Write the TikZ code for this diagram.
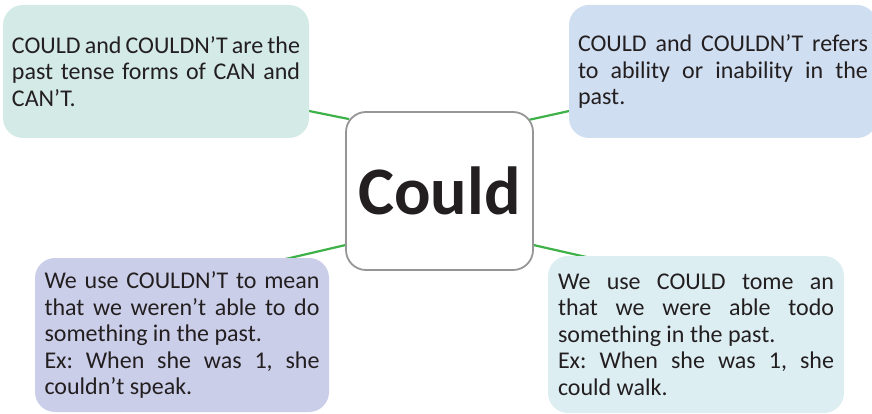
\documentclass[tikz,border=0pt]{standalone}
\usepackage{fontspec}
\setmainfont{Carlito}
\usetikzlibrary{backgrounds}

\definecolor{txt}{RGB}{35,31,32}
\definecolor{linkgreen}{RGB}{62,178,72}
\definecolor{tealbox}{RGB}{212,234,230}
\definecolor{bluebox}{RGB}{208,222,241}
\definecolor{lilacbox}{RGB}{203,206,233}
\definecolor{skybox}{RGB}{221,238,243}
\definecolor{rimgray}{RGB}{150,150,150}

\tikzset{
    notebox/.style={rectangle, rounded corners=20pt, inner xsep=9pt, inner ysep=0pt,
        align=justify, text=txt, font=\fontsize{24}{26.5}\selectfont,
        execute at begin node={\parindent=0pt\tolerance=10000\frenchspacing}},
    hubbox/.style={rectangle, rounded corners=20pt, draw=rimgray, line width=1.8pt, fill=white,
        minimum width=187pt, minimum height=158pt, text=txt,
        font=\fontsize{68}{76}\selectfont\bfseries},
    link/.style={linkgreen, line width=2.2pt}
}

\begin{document}
\begin{tikzpicture}[x=1pt, y=-1pt]
    \useasboundingbox (0,0) rectangle (872,414);

    % centre and the four notes round it
    \node[hubbox, text depth=-3pt] (could) at (439.5,191) {Could};
    \node[notebox, fill=tealbox, text width=288pt, minimum width=306pt, minimum height=133pt] (past) at (156,71.5)
        {COULD and COULDN’T are the\linebreak past tense forms of CAN and\linebreak CAN’T.};
    \node[notebox, fill=bluebox, text width=290pt, minimum width=306pt, minimum height=133pt] (ability) at (723,71.5)
        {COULD and COULDN’T refers\linebreak to ability or inability in the\linebreak past.};
    \node[notebox, fill=lilacbox, text width=275pt, minimum width=294pt, minimum height=154pt] (couldnt) at (182,335)
        {We use COULDN’T to mean\linebreak that we weren’t able to do\linebreak something in the past.\par
         Ex: When she was 1, she\linebreak couldn’t speak.};
    \node[notebox, fill=skybox, text width=276pt, minimum width=296pt, minimum height=157pt] (couldyes) at (696,334.5)
        {We use COULD tome an\linebreak that we were able todo\linebreak something in the past.\par
         Ex: When she was 1, she\linebreak could walk.};

    % connectors behind the boxes
    \begin{pgfonlayer}{background}
        \draw[link] ([shift={(-4,-28)}]past.south east) -- ([shift={(4,8)}]could.north west);
        \draw[link] ([shift={(-6,9)}]could.north east) -- ([shift={(4,-28)}]ability.south west);
        \draw[link] ([shift={(1,-26)}]could.south west) -- ([shift={(-47,2)}]couldnt.north east);
        \draw[link] ([shift={(-1,-26)}]could.south east) -- ([shift={(42,2)}]couldyes.north west);
    \end{pgfonlayer}
\end{tikzpicture}
\end{document}
